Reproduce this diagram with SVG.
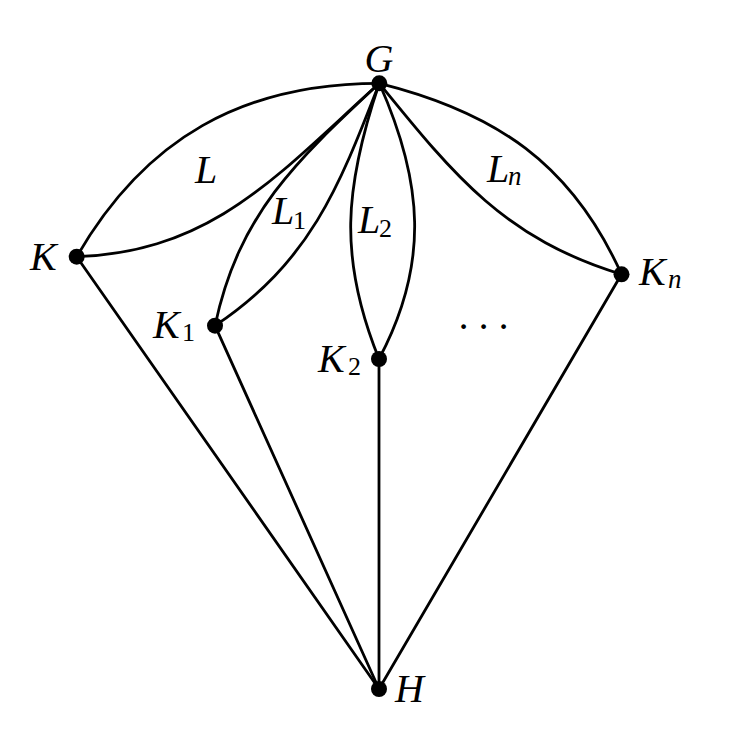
<svg xmlns="http://www.w3.org/2000/svg" width="740" height="736" viewBox="0 0 740 736">
<style>
.e{fill:none;stroke:#000;stroke-width:2.8;stroke-linecap:round}
.d{fill:#000}
.t{font-family:"Liberation Serif","Times New Roman",serif;font-style:italic;font-size:40px;fill:#000}
.s{font-family:"Liberation Serif","Times New Roman",serif;font-style:normal;font-size:26px}
.si{font-family:"Liberation Serif","Times New Roman",serif;font-style:italic;font-size:27px}
</style>
<rect width="740" height="736" fill="#fff"/>
<g id="connectors">
<path class="e" d="M76.7,256.7 C145,138.4 242.7,83.3 379.3,83.3"/>
<path class="e" d="M76.7,256.7 C213.2,251.9 277.8,174.7 379.3,83.3"/>
<path class="e" d="M215,325.7 C238.7,214.2 295.9,161 379.3,83.3"/>
<path class="e" d="M215,325.7 C309.5,262 338,190 379.3,83.3"/>
<path class="e" d="M379,359 C338.5,258.9 344,188 379.3,83.3"/>
<path class="e" d="M379,359 C429.7,263.6 423.2,182 379.3,83.3"/>
<path class="e" d="M379.3,83.3 C496.3,112.5 571.9,164.1 621.5,274.3"/>
<path class="e" d="M379.3,83.3 C455.2,177 505.7,239 621.5,274.3"/>
<path class="e" d="M76.7,256.7 L379,689"/>
<path class="e" d="M215,325.7 L379,689"/>
<path class="e" d="M379,359 L379,689"/>
<path class="e" d="M621.5,274.3 L379,689"/>
</g>
<g id="edge-labels">
<text class="t" x="195" y="183">L</text>
<text class="t" x="272" y="224">L<tspan class="s" x="293" y="229">1</tspan></text>
<text class="t" x="358" y="233">L<tspan class="s" x="379" y="237">2</tspan></text>
<text class="t" x="487" y="182">L<tspan class="si" x="508" y="185">n</tspan></text>
<text class="t" x="488" y="340" text-anchor="middle" letter-spacing="10">···</text>
</g>
<g id="node-G"><circle class="d" cx="379.3" cy="83.3" r="8"/><text class="t" x="379" y="72" text-anchor="middle">G</text></g>
<g id="node-K"><circle class="d" cx="76.7" cy="256.7" r="8"/><text class="t" x="30" y="270">K</text></g>
<g id="node-K1"><circle class="d" cx="215" cy="325.7" r="8"/><text class="t" x="153" y="338">K<tspan class="s" x="182" y="341">1</tspan></text></g>
<g id="node-K2"><circle class="d" cx="379" cy="359" r="8"/><text class="t" x="318" y="372">K<tspan class="s" x="348" y="375">2</tspan></text></g>
<g id="node-Kn"><circle class="d" cx="621.5" cy="274.3" r="8"/><text class="t" x="639" y="285">K<tspan class="si" x="668" y="288">n</tspan></text></g>
<g id="node-H"><circle class="d" cx="379" cy="689" r="8"/><text class="t" x="395" y="702">H</text></g>
</svg>
